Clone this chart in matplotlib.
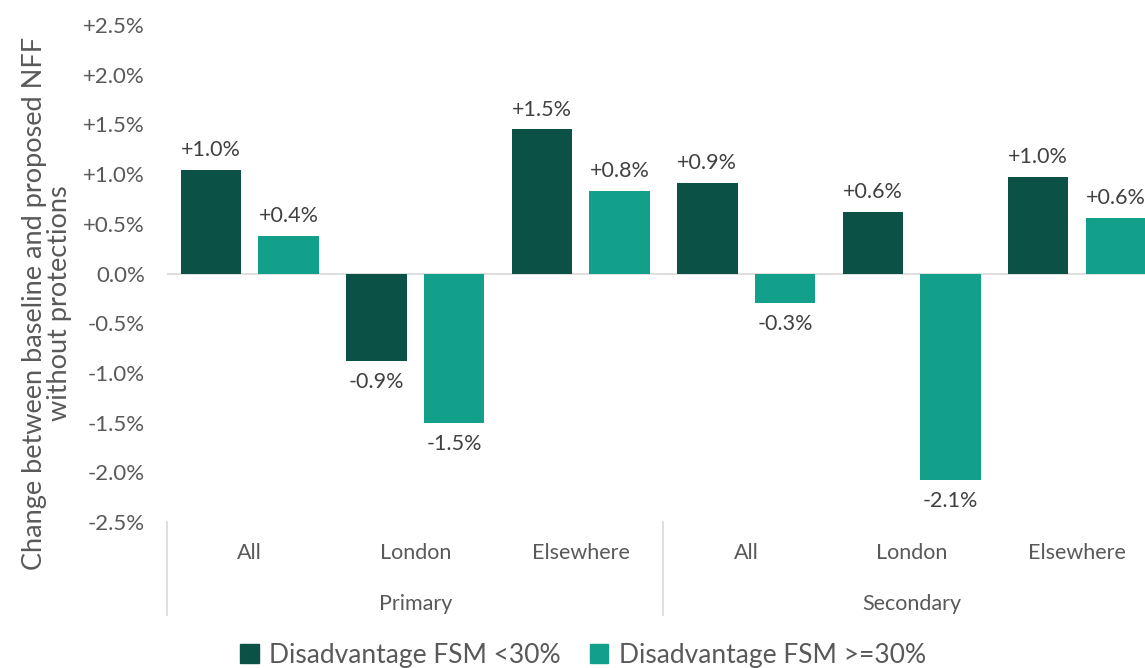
import numpy as np
import matplotlib
matplotlib.use("Agg")
import matplotlib.pyplot as plt
from matplotlib.patches import Patch

# data
phases = ["Primary", "Secondary"]
areas = ["All", "London", "Elsewhere", "All", "London", "Elsewhere"]
series_names = ["Disadvantage FSM <30%", "Disadvantage FSM >=30%"]
low_fsm = [1.04, -0.88, 1.45, 0.91, 0.62, 0.97]
high_fsm = [0.38, -1.50, 0.83, -0.30, -2.08, 0.56]
low_labels = ["+1.0%", "-0.9%", "+1.5%", "+0.9%", "+0.6%", "+1.0%"]
high_labels = ["+0.4%", "-1.5%", "+0.8%", "-0.3%", "-2.1%", "+0.6%"]

dark = "#0B5146"
teal = "#13A08A"
grey = "#595959"
line_grey = "#D9D9D9"

plt.rcParams["font.family"] = ["Lato", "DejaVu Sans"]

fig = plt.figure(figsize=(11.45, 6.68), dpi=100)
ax = fig.add_axes([167 / 1145, (668 - 522) / 668, (1145 - 167) / 1145, (522 - 25) / 668])

x = np.arange(len(areas))
w = 0.365
off = 0.235
b1 = ax.bar(x - off, low_fsm, w, color=dark)
b2 = ax.bar(x + off, high_fsm, w, color=teal)

for bars, labels in [(b1, low_labels), (b2, high_labels)]:
    for rect, lab in zip(bars, labels):
        h = rect.get_height()
        cx = rect.get_x() + rect.get_width() / 2
        if h >= 0:
            ax.annotate(lab, (cx, h), xytext=(0, 7), textcoords="offset points",
                        ha="center", va="bottom", fontsize=15.5, color="#404040")
        else:
            ax.annotate(lab, (cx, h), xytext=(0, -8), textcoords="offset points",
                        ha="center", va="top", fontsize=15.5, color="#404040")

ax.set_xlim(-0.5, 5.41)
ax.set_ylim(-2.5, 2.5)
ax.set_yticks(np.arange(-2.5, 2.51, 0.5))
ax.set_yticklabels([("+" if v > 0 else "") + f"{v:.1f}%" for v in np.arange(-2.5, 2.51, 0.5)])
ax.tick_params(axis="y", length=0, labelsize=16, labelcolor=grey, pad=16)
ax.set_xticks([])
for s in ax.spines.values():
    s.set_visible(False)
ax.axhline(0, color=line_grey, lw=1.2, zorder=0)

ax.set_ylabel("Change between baseline and proposed NFF\nwithout protections",
              fontsize=19.5, color=grey, linespacing=1.0)
ax.yaxis.set_label_coords(-0.097, 0.44)

# category axis text and separators
tr = ax.get_xaxis_transform()
for i, a in enumerate(areas):
    ax.text(i, -0.063, a, transform=tr, ha="center", va="center", fontsize=15.5, color=grey)
for j, p in enumerate(phases):
    ax.text(3 * j + 1, -0.165, p, transform=tr, ha="center", va="center", fontsize=15.5, color=grey)
for xs in [-0.5, 2.5, 5.5]:
    ax.plot([xs, xs], [0, -0.188], transform=tr, color=line_grey, lw=1.2, clip_on=False)

handles = [Patch(color=dark), Patch(color=teal)]
fig.legend(handles, series_names, loc="center", bbox_to_anchor=(583 / 1145, 1 - 655 / 668),
           ncol=2, frameon=False, fontsize=19, labelcolor=grey, handlelength=0.7,
           handleheight=0.7, handletextpad=0.4, columnspacing=1.1)

fig.savefig("out.png", dpi=100)
